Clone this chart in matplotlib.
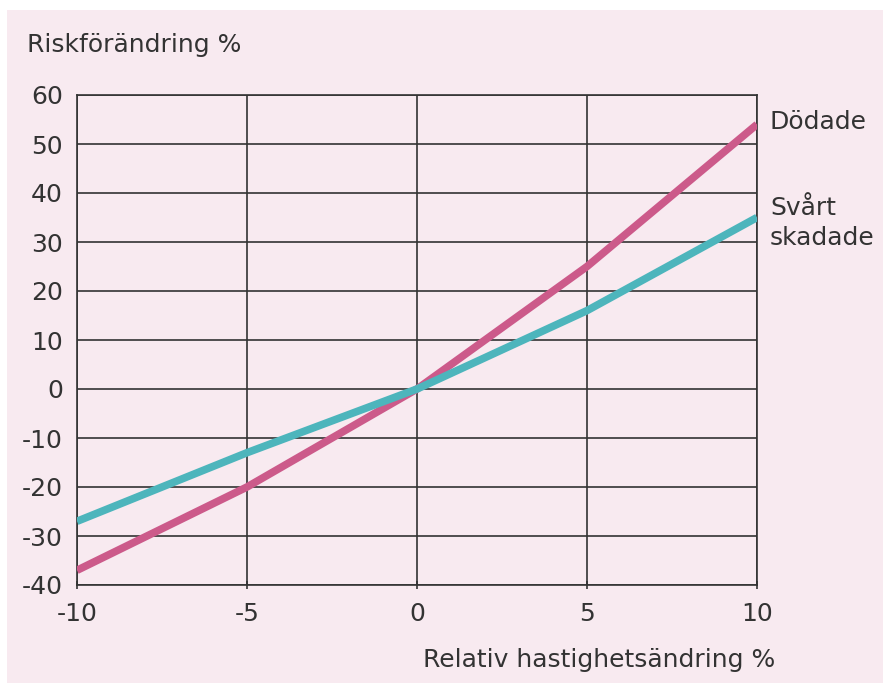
import matplotlib.pyplot as plt
from matplotlib.patches import Rectangle

# ===== DATA ===== #
speed_change = [-10, -5, 0, 5, 10]
killed = [-37, -20, 0, 25, 54]
injured = [-27, -13, 0, 16, 35]
x_ticks = [-10, -5, 0, 5, 10]
y_ticks = [-40, -30, -20, -10, 0, 10, 20, 30, 40, 50, 60]

bg = "#f8eaf0"
ink = "#333333"
fs = 18
plt.rcParams['font.family'] = ['DejaVu Sans']

fig = plt.figure(figsize=(8.83, 6.84), dpi=100, facecolor="white")
# pink panel behind everything
panel = Rectangle((7 / 883, 1 / 684), 1, 1 - 11 / 684, transform=fig.transFigure,
                  facecolor=bg, edgecolor="none", zorder=-10)
fig.add_artist(panel)

ax = fig.add_axes([77 / 883, 99 / 684, 680 / 883, 490 / 684])
ax.set_facecolor(bg)

ax.plot(speed_change, killed, color="#cc5a8a", lw=5.5, solid_capstyle="butt", zorder=3)
ax.plot(speed_change, injured, color="#4db5bc", lw=5.5, solid_capstyle="butt", zorder=3)

ax.set_xlim(-10, 10)
ax.set_ylim(-40, 60)
ax.set_xticks(x_ticks)
ax.set_xticklabels([str(v) for v in x_ticks])
ax.set_yticks(y_ticks)
ax.set_yticklabels([str(v) for v in y_ticks])
ax.grid(True, color=ink, lw=1.2)
ax.set_axisbelow(True)
for s in ax.spines.values():
    s.set_color(ink)
    s.set_linewidth(1.2)
ax.tick_params(axis="x", length=6, width=1.2, color=ink, direction="inout",
               labelsize=fs, labelcolor=ink, pad=9)
ax.tick_params(axis="y", length=0, labelsize=fs, labelcolor=ink, pad=10)

fig.text(27 / 883, 1 - 45 / 684, "Riskförändring %", fontsize=fs, color=ink,
         ha="left", va="center")
fig.text(775 / 883, 1 - 660 / 684, "Relativ hastighetsändring %", fontsize=fs,
         color=ink, ha="right", va="center")
fig.text(770 / 883, 1 - 122 / 684, "Dödade", fontsize=fs, color=ink,
         ha="left", va="center")
fig.text(770 / 883, 1 - 223 / 684, "Svårt\nskadade", fontsize=fs, color=ink,
         ha="left", va="center", linespacing=1.35)

fig.savefig("out.png", dpi=100, facecolor="white")
